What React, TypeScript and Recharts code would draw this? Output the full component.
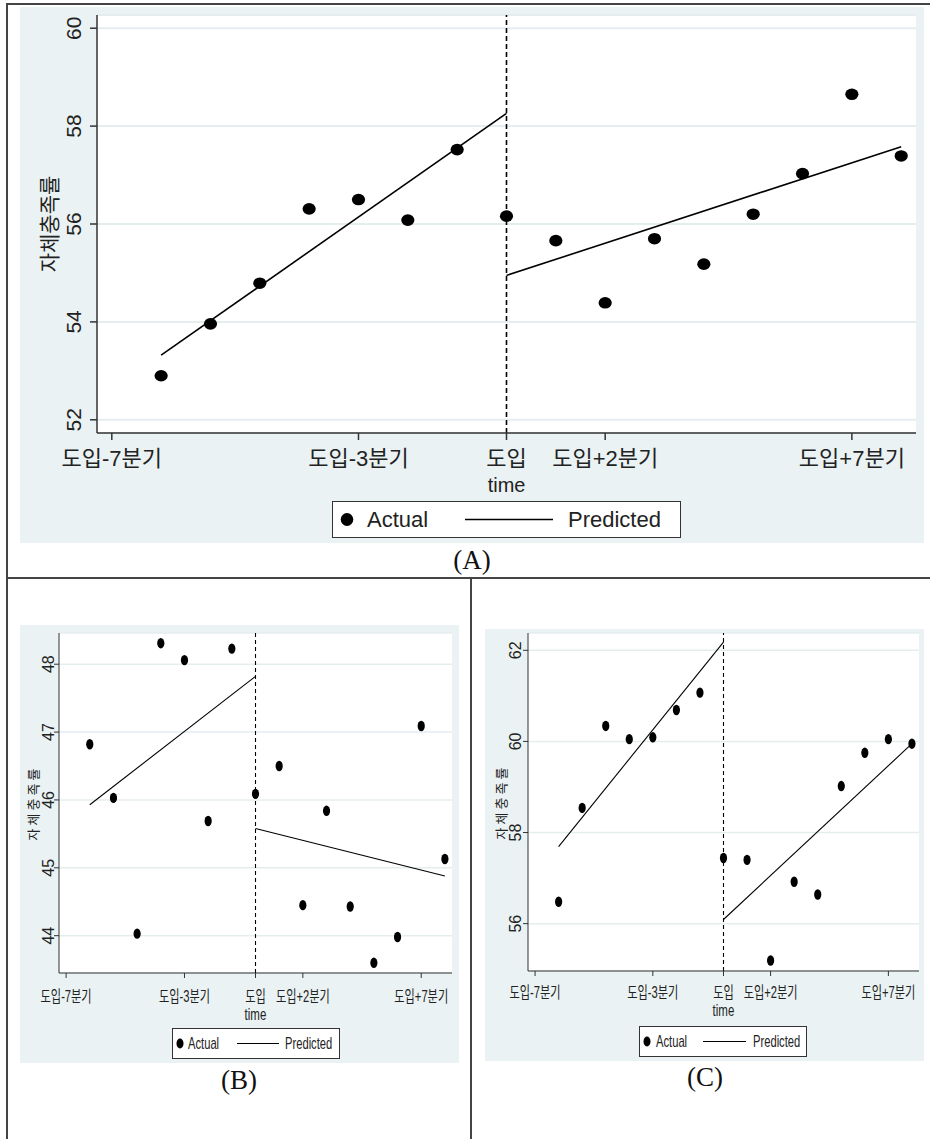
import { ComposedChart, Scatter, Line, XAxis, YAxis, CartesianGrid, ReferenceLine, Legend } from 'recharts'

// quarter index relative to introduction (0 = 도입 시점)
const quarters = [-7, -6, -5, -4, -3, -2, -1, 0, 1, 2, 3, 4, 5, 6, 7, 8]
const xTicks = [-8, -3, 0, 2, 7]
const xTickLabels = ['도입-7분기', '도입-3분기', '도입', '도입+2분기', '도입+7분기']
const preEnds = [-7, 0]
const postEnds = [0, 8]

// (A)
const actualA = [52.9, 53.96, 54.79, 56.31, 56.5, 56.08, 57.52, 56.16, 55.66, 54.39, 55.7, 55.18, 56.2, 57.03, 58.65, 57.39]
const preA = [53.32, 58.26]
const postA = [54.95, 57.58]
const yTicksA = [52, 54, 56, 58, 60]

// (B)
const actualB = [46.82, 46.03, 44.03, 48.31, 48.06, 45.69, 48.23, 46.09, 46.5, 44.45, 45.84, 44.43, 43.6, 43.98, 47.09, 45.13]
const preB = [45.93, 47.82]
const postB = [45.58, 44.88]
const yTicksB = [44, 45, 46, 47, 48]

// (C)
const actualC = [56.48, 58.54, 60.34, 60.05, 60.09, 60.69, 61.07, 57.44, 57.4, 55.19, 56.92, 56.64, 59.02, 59.75, 60.05, 59.95]
const preC = [57.69, 62.18]
const postC = [56.09, 59.95]
const yTicksC = [56, 58, 60, 62]

const SANS = '"Liberation Sans", Arial, "Noto Sans CJK KR", sans-serif'
const SERIF = '"Liberation Serif", "DejaVu Serif", serif'
const BG = '#EAF2F3'
const INK = '#222'

type LegendSpec = {
  left: number; top: number; width: number; height: number
  dotX: number; rx: number; ry: number
  actualX: number; lineX1: number; lineX2: number; predX: number
  font: number; sx: number; lineW: number
}

type PanelSpec = {
  left: number; top: number; width: number; height: number
  margin: { top: number; right: number; left: number; bottom: number }
  yWidth: number; xHeight: number
  yDomain: [number, number]; yTicks: number[]
  actual: number[]; pre: number[]; post: number[]
  rx: number; ry: number
  tickSize: number; axisW: number; gridW: number; lineW: number; dash: string
  xFont: number; xSx: number; xDy: number
  yFont: number; yDx: number
  titleFont: number; titleDx: number; titleSpacing: number
  timeFont: number; timeSx: number; timeDy: number
  legend: LegendSpec
}

function YTitle(props: any) {
  const { viewBox, text, dx, font, spacing } = props
  const cx = (viewBox?.x ?? 0) + dx
  const cy = (viewBox?.y ?? 0) + (viewBox?.height ?? 0) / 2
  return (
    <text x={cx} y={cy} transform={`rotate(-90 ${cx} ${cy})`} textAnchor="middle" dominantBaseline="central"
      fontSize={font} letterSpacing={spacing} fill={INK} fontFamily={SANS}>{text}</text>
  )
}

function XTitle(props: any) {
  const { viewBox, text, dy, font, sx } = props
  const cx = (viewBox?.x ?? 0) + (viewBox?.width ?? 0) / 2
  const cy = (viewBox?.y ?? 0) + dy
  return (
    <text x={0} y={0} transform={`translate(${cx} ${cy}) scale(${sx} 1)`} textAnchor="middle" dominantBaseline="central"
      fontSize={font} fill={INK} fontFamily={SANS}>{text}</text>
  )
}

function LegendBox({ s }: { s: LegendSpec }) {
  const cy = s.height / 2
  return (
    <svg width={s.width} height={s.height} style={{ display: 'block' }}>
      <rect x={0.5} y={0.5} width={s.width - 1} height={s.height - 1} fill="#fff" stroke="#333" />
      <ellipse cx={s.dotX} cy={cy} rx={s.rx} ry={s.ry} fill="#000" />
      <text transform={`translate(${s.actualX} ${cy}) scale(${s.sx} 1)`} dominantBaseline="central" fontSize={s.font} fontFamily={SANS} fill={INK}>Actual</text>
      <line x1={s.lineX1} x2={s.lineX2} y1={cy} y2={cy} stroke="#000" strokeWidth={s.lineW} />
      <text transform={`translate(${s.predX} ${cy}) scale(${s.sx} 1)`} dominantBaseline="central" fontSize={s.font} fontFamily={SANS} fill={INK}>Predicted</text>
    </svg>
  )
}

function Panel({ p }: { p: PanelSpec }) {
  const actualData = quarters.map((t, i) => ({ t, y: p.actual[i] }))
  const preData = preEnds.map((t, i) => ({ t, y: p.pre[i] }))
  const postData = postEnds.map((t, i) => ({ t, y: p.post[i] }))

  const xTick = ({ x, y, payload }: any) => (
    <text x={0} y={0} transform={`translate(${x} ${y + p.xDy}) scale(${p.xSx} 1)`} textAnchor="middle"
      dominantBaseline="central" fontSize={p.xFont} fill={INK} fontFamily={SANS}>
      {xTickLabels[xTicks.indexOf(payload.value)]}
    </text>
  )
  const yTick = ({ x, y, payload }: any) => {
    const cx = x + p.yDx
    return (
      <text x={cx} y={y} transform={`rotate(-90 ${cx} ${y})`} textAnchor="middle" dominantBaseline="central"
        fontSize={p.yFont} fill={INK} fontFamily={SANS}>{payload.value}</text>
    )
  }

  return (
    <div style={{ position: 'absolute', left: p.left, top: p.top, width: p.width, height: p.height, background: BG }}>
      <ComposedChart width={p.width} height={p.height} margin={p.margin}>
        <CartesianGrid vertical={false} fill="#fff" stroke="#E6EDEF" strokeWidth={p.gridW} />
        <XAxis type="number" dataKey="t" domain={[-8.3, 8.3]} ticks={xTicks} interval={0}
          height={p.xHeight} tickSize={p.tickSize} tickMargin={0} tick={xTick}
          axisLine={{ stroke: '#333', strokeWidth: p.axisW }} tickLine={{ stroke: '#333', strokeWidth: p.axisW }}
          label={<XTitle text="time" dy={p.timeDy} font={p.timeFont} sx={p.timeSx} />} />
        <YAxis type="number" dataKey="y" domain={p.yDomain} ticks={p.yTicks} interval={0}
          width={p.yWidth} tickSize={p.tickSize} tickMargin={0} tick={yTick}
          axisLine={{ stroke: '#333', strokeWidth: p.axisW }} tickLine={{ stroke: '#333', strokeWidth: p.axisW }}
          label={<YTitle text="자체충족률" dx={p.titleDx} font={p.titleFont} spacing={p.titleSpacing} />} />
        <ReferenceLine x={0} stroke="#000" strokeWidth={p.lineW} strokeDasharray={p.dash} />
        <Line data={preData} dataKey="y" stroke="#000" strokeWidth={p.lineW} dot={false} activeDot={false}
          isAnimationActive={false} legendType="none" />
        <Line data={postData} dataKey="y" stroke="#000" strokeWidth={p.lineW} dot={false} activeDot={false}
          isAnimationActive={false} legendType="none" />
        <Scatter data={actualData} dataKey="y" isAnimationActive={false}
          shape={(s: any) => <ellipse cx={s.cx} cy={s.cy} rx={p.rx} ry={p.ry} fill="#000" />} />
        <Legend layout="horizontal" verticalAlign="middle" align="center"
          wrapperStyle={{ left: p.legend.left, top: p.legend.top, width: p.legend.width, height: p.legend.height }}
          content={() => <LegendBox s={p.legend} />} />
      </ComposedChart>
    </div>
  )
}

const panelA: PanelSpec = {
  left: 20, top: 7, width: 904, height: 536,
  margin: { top: 8, right: 8, left: 0, bottom: 0 },
  yWidth: 77, xHeight: 110,
  yDomain: [51.73, 60.27], yTicks: yTicksA,
  actual: actualA, pre: preA, post: postA,
  rx: 6.6, ry: 5.8,
  tickSize: 7, axisW: 1.5, gridW: 2, lineW: 1.6, dash: '5 3',
  xFont: 22, xSx: 1, xDy: 18,
  yFont: 21, yDx: -16.5,
  titleFont: 21, titleDx: 29, titleSpacing: 0,
  timeFont: 21, timeSx: 0.95, timeDy: 51,
  legend: { left: 312, top: 494, width: 349, height: 37, dotX: 15, rx: 6.3, ry: 6.5, actualX: 35, lineX1: 133, lineX2: 221, predX: 236, font: 22, sx: 1, lineW: 1.5 },
}

const panelB: PanelSpec = {
  left: 20, top: 625, width: 439, height: 438,
  margin: { top: 8, right: 7, left: 0, bottom: 0 },
  yWidth: 39, xHeight: 90,
  yDomain: [43.45, 48.46], yTicks: yTicksB,
  actual: actualB, pre: preB, post: postB,
  rx: 3.6, ry: 5.2,
  tickSize: 5, axisW: 1, gridW: 1.5, lineW: 1.1, dash: '4 3',
  xFont: 16, xSx: 0.7, xDy: 18,
  yFont: 16, yDx: -5,
  titleFont: 13, titleDx: 13, titleSpacing: 3,
  timeFont: 16, timeSx: 0.72, timeDy: 41,
  legend: { left: 152, top: 403, width: 168, height: 31, dotX: 8, rx: 3.5, ry: 5, actualX: 16, lineX1: 65, lineX2: 107, predX: 113, font: 16, sx: 0.7, lineW: 1 },
}

const panelC: PanelSpec = {
  left: 485, top: 629, width: 439, height: 432,
  margin: { top: 4, right: 5, left: 0, bottom: 0 },
  yWidth: 43, xHeight: 90,
  yDomain: [54.96, 62.38], yTicks: yTicksC,
  actual: actualC, pre: preC, post: postC,
  rx: 3.6, ry: 5.2,
  tickSize: 5, axisW: 1, gridW: 1.5, lineW: 1.1, dash: '4 3',
  xFont: 16, xSx: 0.7, xDy: 16,
  yFont: 16, yDx: -7,
  titleFont: 13, titleDx: 16, titleSpacing: 3,
  timeFont: 16, timeSx: 0.72, timeDy: 39,
  legend: { left: 154, top: 397, width: 168, height: 31, dotX: 8, rx: 3.5, ry: 5, actualX: 17, lineX1: 64, lineX2: 107, predX: 114, font: 16, sx: 0.7, lineW: 1 },
}

function Caption({ text, cx, cy }: { text: string; cx: number; cy: number }) {
  return (
    <div style={{ position: 'absolute', left: cx - 50, top: cy - 16, width: 100, height: 32, lineHeight: '32px',
      textAlign: 'center', fontFamily: SERIF, fontSize: 27, color: '#111' }}>{text}</div>
  )
}

export default function App() {
  const rule = (l: number, t: number, w: number, h: number) => (
    <div style={{ position: 'absolute', left: l, top: t, width: w, height: h, background: '#444' }} />
  )
  return (
    <div style={{ position: 'absolute', left: 0, top: 0, width: 930, height: 1139, background: '#fff', overflow: 'hidden' }}>
      {rule(6, 3, 924, 2)}
      {rule(6, 3, 2, 1136)}
      {rule(6, 577, 924, 2)}
      {rule(470, 577, 2, 562)}
      <Panel p={panelA} />
      <Caption text="(A)" cx={472} cy={560} />
      <Panel p={panelB} />
      <Caption text="(B)" cx={239} cy={1080} />
      <Panel p={panelC} />
      <Caption text="(C)" cx={705} cy={1077} />
    </div>
  )
}
